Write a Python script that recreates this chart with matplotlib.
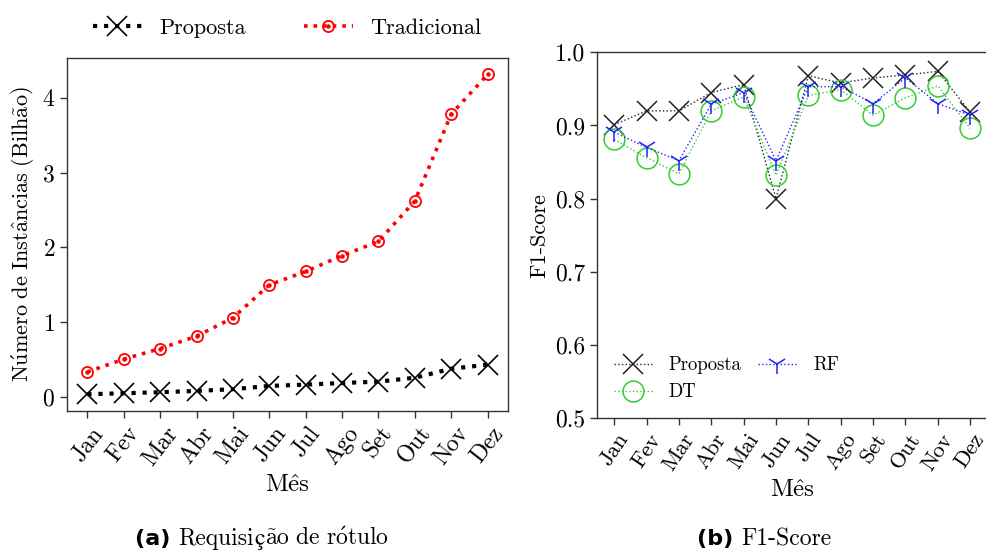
import matplotlib
matplotlib.use("Agg")
import matplotlib.pyplot as plt
from matplotlib.legend_handler import HandlerTuple

plt.rcParams["font.family"] = ["cmr10", "DejaVu Serif"]
plt.rcParams["mathtext.fontset"] = "cm"
plt.rcParams["axes.formatter.use_mathtext"] = True
plt.rcParams["axes.unicode_minus"] = False

# ── Data ──────────────────────────────────────────────────────────────────
meses = ["Jan", "Fev", "Mar", "Abr", "Mai", "Jun",
         "Jul", "Ago", "Set", "Out", "Nov", "Dez"]

# (a) label requests, billions
req_proposta = [0.04, 0.053, 0.067, 0.084, 0.107, 0.151,
                0.168, 0.19, 0.208, 0.26, 0.38, 0.435]
req_tradicional = [0.338, 0.508, 0.649, 0.815, 1.06, 1.50,
                   1.68, 1.89, 2.08, 2.62, 3.78, 4.31]

# (b) F1-score
f1_proposta = [0.901, 0.920, 0.920, 0.945, 0.956, 0.800,
               0.968, 0.958, 0.965, 0.969, 0.974, 0.918]
f1_dt = [0.881, 0.856, 0.834, 0.920, 0.939, 0.832,
         0.941, 0.949, 0.914, 0.938, 0.954, 0.896]
f1_rf = [0.891, 0.870, 0.852, 0.929, 0.945, 0.852,
         0.953, 0.953, 0.930, 0.965, 0.930, 0.914]

x = list(range(len(meses)))

# accented labels go through mathtext so they stay in Computer Modern
lbl_mes = r"$\mathrm{M\hat{e}s}$"
lbl_inst = r"$\mathrm{N\acute{u}mero\ de\ Inst\hat{a}ncias\ (Bilh\tilde{a}o)}$"
# caption pieces: (text, font family); cmr10 has no "ç"
cap_a = [("Requisi", "cmr10"), ("ç", "STIXGeneral"),
         (r"$\mathrm{\tilde{a}o\ de\ r\acute{o}tulo}$", "cmr10")]
cap_b = [("F1-Score", "cmr10")]

fig = plt.figure(figsize=(9.87, 5.51), dpi=100)
ax1 = fig.add_axes([67 / 987, 1 - 410.7 / 551, 440.6 / 987, 352.4 / 551])
ax2 = fig.add_axes([596.7 / 987, 1 - 418.3 / 551, 391 / 987, 366 / 551])

# ── (a) Requisição de rótulo ─────────────────────────────────────────────
l_prop, = ax1.plot(x, req_proposta, color="black", linestyle=":", linewidth=3,
                   marker="x", markersize=15, markeredgewidth=1.2)
l_trad, = ax1.plot(x, req_tradicional, color="red", linestyle=":", linewidth=2.6,
                   marker="o", markersize=8, markerfacecolor="none",
                   markeredgewidth=1.3)
l_dot, = ax1.plot(x, req_tradicional, color="red", linestyle="none",
                  marker="o", markersize=2.2)
ax1.set_xlim(-0.56, 11.55)
ax1.set_ylim(-0.18, 4.526)
ax1.set_yticks([0, 1, 2, 3, 4])
ax1.set_xticks(x)
ax1.set_xticklabels(meses, rotation=52, ha="center", fontsize=17)
ax1.tick_params(axis="y", labelsize=17)
ax1.set_ylabel(lbl_inst, fontsize=16, labelpad=4)
ax1.set_xlabel(lbl_mes, fontsize=18, labelpad=4)
ax1.legend([l_prop, (l_trad, l_dot)], ["Proposta", "Tradicional"],
           handler_map={tuple: HandlerTuple(ndivide=1)},
           loc="lower center", bbox_to_anchor=(0.5, 1.02), ncol=2,
           frameon=False, fontsize=16, columnspacing=2.6, handlelength=2.2,
           borderaxespad=0.2)

# ── (b) F1-Score ─────────────────────────────────────────────────────────
ax2.plot(x, f1_proposta, color="#222222", linestyle=":", linewidth=1,
         marker="x", markersize=15, markeredgewidth=1.1, label="Proposta")
ax2.plot(x, f1_dt, color="#33cc33", linestyle=":", linewidth=1,
         marker="o", markersize=15, markerfacecolor="none",
         markeredgewidth=1.1, label="DT")
ax2.plot(x, f1_rf, color="#2222ff", linestyle=":", linewidth=1,
         marker="1", markersize=14, markeredgewidth=1.1, label="RF")
ax2.set_xlim(-0.54, 11.54)
ax2.set_ylim(0.5, 1.0)
ax2.set_yticks([0.5, 0.6, 0.7, 0.8, 0.9, 1.0])
ax2.set_yticklabels(["0.5", "0.6", "0.7", "0.8", "0.9", "1.0"])
ax2.set_xticks(x)
ax2.set_xticklabels(meses, rotation=56, ha="center", fontsize=16)
ax2.tick_params(axis="y", labelsize=17)
ax2.set_ylabel("F1-Score", fontsize=16, labelpad=4)
ax2.set_xlabel(lbl_mes, fontsize=18, labelpad=4)
ax2.legend(loc="lower left", ncol=2, frameon=False, fontsize=13.5,
           handlelength=2.1, handletextpad=0.85, columnspacing=0.85,
           bbox_to_anchor=(0.0, 0.0))

for ax in (ax1, ax2):
    for sp in ax.spines.values():
        sp.set_color("#333333")
        sp.set_linewidth(1.0)
    ax.tick_params(direction="out", length=5, width=1, color="#333333")

# ── Captions ─────────────────────────────────────────────────────────────
fig.canvas.draw()
r = fig.canvas.get_renderer()
for cx, tag, pieces in [(262, "(a)", cap_a), (764, "(b)", cap_b)]:
    texts = [fig.text(0, 0, tag + " ", fontsize=16, fontweight="bold",
                      family="DejaVu Sans")]
    for s, fam in pieces:
        texts.append(fig.text(0, 0, s, fontsize=17, family=fam))
    widths = [t.get_window_extent(r).width for t in texts]
    left = cx - sum(widths) / 2
    for t, w in zip(texts, widths):
        t.set_position((left / 987, 1 - 545 / 551))
        left += w

fig.savefig("out.png", dpi=100)
